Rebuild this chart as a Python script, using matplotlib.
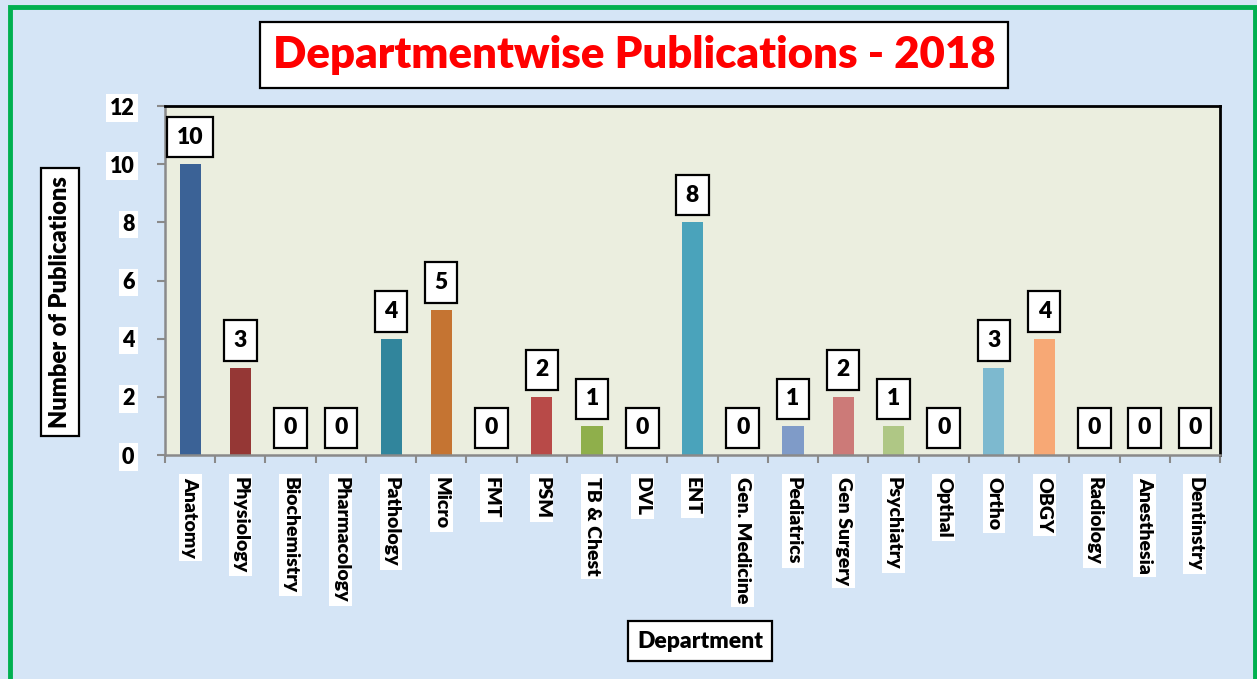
import matplotlib
matplotlib.use("Agg")
import matplotlib.pyplot as plt
from matplotlib.patches import Rectangle

departments = ["Anatomy", "Physiology", "Biochemistry", "Pharmacology", "Pathology",
               "Micro", "FMT", "PSM", "TB & Chest", "DVL", "ENT", "Gen. Medicine",
               "Pediatrics", "Gen Surgery", "Psychiatry", "Opthal", "Ortho", "OBGY",
               "Radiology", "Anesthesia", "Dentinstry"]
publications = [10, 3, 0, 0, 4, 5, 0, 2, 1, 0, 8, 0, 1, 2, 1, 0, 3, 4, 0, 0, 0]
bar_colors = ["#3B6296", "#953735", "#4F81BD", "#C0504D", "#31859C", "#C57432",
              "#8064A2", "#B84A48", "#8FAF4B", "#4BACC6", "#4AA3BB", "#F79646",
              "#7F9BC8", "#CC7A78", "#AFC785", "#A08CC0", "#7DB9CF", "#F7A875",
              "#4F81BD", "#C0504D", "#9BBB59"]
y_ticks = [0, 2, 4, 6, 8, 10, 12]

FONT = "Lato"
WEIGHT = "heavy"
plt.rcParams["font.family"] = [FONT, "DejaVu Sans"]
plt.rcParams["font.weight"] = WEIGHT

W, H = 1257, 679
fig = plt.figure(figsize=(W / 100, H / 100), dpi=100, facecolor="#D5E5F6")

# green frame
fig.patches.append(Rectangle((10 / W, -0.02), (1255 - 10) / W, (H - 7) / H + 0.02,
                             transform=fig.transFigure, fill=False,
                             edgecolor="#00B050", linewidth=3.5))

ax = fig.add_axes([165 / W, (H - 455) / H, (1220 - 165) / W, (455 - 106) / H])
ax.set_facecolor("#EBEEDF")

x = list(range(len(departments)))
ax.bar(x, publications, width=0.42, color=bar_colors, zorder=2)

ax.set_xlim(-0.5, len(departments) - 0.5)
ax.set_ylim(0, 12)

for s in ["top", "right"]:
    ax.spines[s].set_color("black")
    ax.spines[s].set_linewidth(2)
for s in ["left", "bottom"]:
    ax.spines[s].set_color("#8A8A8A")
    ax.spines[s].set_linewidth(1.8)

ax.set_yticks(y_ticks)
ax.set_yticklabels([str(t) for t in y_ticks], fontsize=15.5, fontweight=WEIGHT)
ax.tick_params(axis="y", direction="out", length=6, width=1.5, color="#8A8A8A", pad=16)
for lbl in ax.get_yticklabels():
    lbl.set_bbox(dict(boxstyle="square,pad=0.15", fc="white", ec="none"))

ax.set_xticks([i - 0.5 for i in range(len(departments) + 1)])
ax.set_xticklabels([])
ax.tick_params(axis="x", which="major", direction="out", length=6, width=1.5, color="#8A8A8A")
ax.set_xticks(x, minor=True)
ax.set_xticklabels(departments, minor=True, rotation=270, fontsize=14,
                   fontweight=WEIGHT, va="top", ha="center")
ax.tick_params(axis="x", which="minor", length=0, pad=16)
for lbl in ax.get_xticklabels(minor=True):
    lbl.set_bbox(dict(boxstyle="square,pad=0.15", fc="white", ec="none"))

for i, v in enumerate(publications):
    ax.annotate(str(v), xy=(i, v), xytext=(0, 12), textcoords="offset points",
                ha="center", va="bottom", fontsize=16.5, fontweight=WEIGHT,
                bbox=dict(boxstyle="square,pad=0.42", fc="white", ec="black", lw=1.6),
                zorder=3)

fig.text(60 / W, 1 - 302 / H, "Number of Publications", rotation=90, fontsize=17,
         fontweight=WEIGHT, ha="center", va="center",
         bbox=dict(boxstyle="square,pad=0.35", fc="white", ec="black", lw=1.6))
fig.text(700 / W, 1 - 641 / H, "Department", fontsize=16.5, fontweight=WEIGHT,
         ha="center", va="center",
         bbox=dict(boxstyle="square,pad=0.4", fc="white", ec="black", lw=1.6))
fig.text(634 / W, 1 - 55 / H, "Departmentwise Publications - 2018", fontsize=31.5,
         fontweight=WEIGHT, color="#FF0000", ha="center", va="center",
         bbox=dict(boxstyle="square,pad=0.3", fc="white", ec="black", lw=1.6))

fig.savefig("out.png", dpi=100, facecolor=fig.get_facecolor())
